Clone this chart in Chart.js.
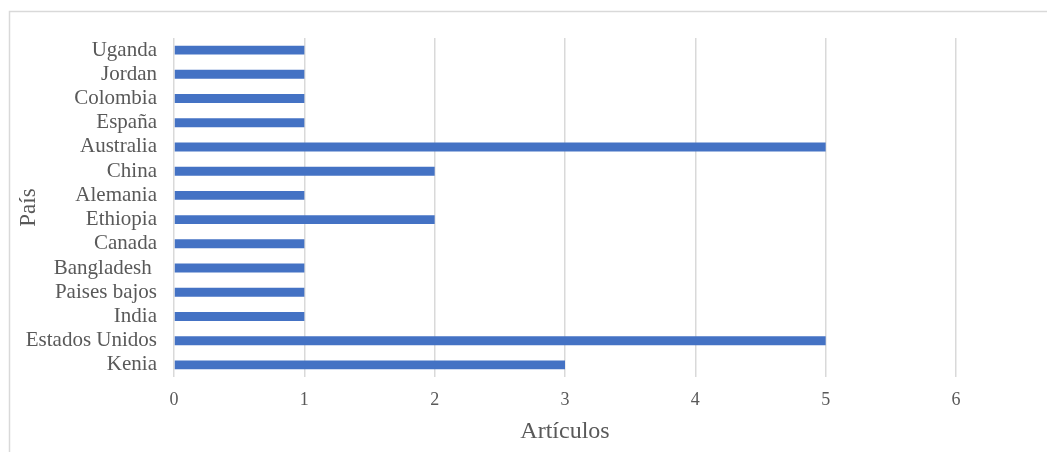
<!DOCTYPE html>
<html>
<head>
<meta charset="utf-8">
<script src="https://cdn.jsdelivr.net/npm/chart.js@4"></script>
<style>
  html, body { margin: 0; padding: 0; background: #fff; }
  #wrap { width: 1047px; height: 452px; position: relative; }
</style>
</head>
<body>
<div id="wrap"><canvas id="chart" width="1047" height="452"></canvas></div>
<script>
// Countries, top to bottom as shown
const paises = ['Uganda', 'Jordan', 'Colombia', 'España', 'Australia', 'China', 'Alemania',
  'Ethiopia', 'Canada', 'Bangladesh ', 'Paises bajos', 'India', 'Estados Unidos', 'Kenia']
// Number of articles per country
const articulos = [1, 1, 1, 1, 5, 2, 1, 2, 1, 1, 1, 1, 5, 3]
const ejeX = { min: 0, max: 6, step: 1 }

const textColor = '#595959'
const gridColor = '#d9d9d9'
const serif = "'Liberation Serif', 'Times New Roman', serif"

// light frame around the chart, like the Excel chart area
const framePlugin = {
  id: 'frame',
  beforeDraw(chart) {
    const ctx = chart.ctx
    ctx.save()
    ctx.fillStyle = '#fff'
    ctx.fillRect(0, 0, chart.width, chart.height)
    ctx.strokeStyle = '#d9d9d9'
    ctx.lineWidth = 1.5
    ctx.strokeRect(9.5, 11.5, chart.width + 20, chart.height + 20)
    ctx.restore()
  }
}

new Chart(document.getElementById('chart'), {
  type: 'bar',
  data: {
    labels: paises,
    datasets: [{
      label: 'Artículos',
      data: articulos,
      backgroundColor: '#4472c4',
      borderWidth: 0,
      barPercentage: 0.37,
      categoryPercentage: 1
    }]
  },
  options: {
    indexAxis: 'y',
    responsive: false,
    animation: false,
    layout: { padding: { top: 38, right: 91, left: 0, bottom: 0 } },
    plugins: {
      legend: { display: false },
      tooltip: { enabled: false }
    },
    scales: {
      x: {
        min: ejeX.min,
        max: ejeX.max,
        afterFit(scale) { scale.height = 75 },
        grid: { color: gridColor, lineWidth: 1.5, drawTicks: false },
        border: { display: false },
        ticks: {
          stepSize: ejeX.step,
          color: textColor,
          padding: 12,
          font: { family: serif, size: 18 }
        },
        title: {
          display: true,
          text: 'Artículos',
          color: textColor,
          padding: { top: 1, bottom: 6 },
          font: { family: serif, size: 24 }
        }
      },
      y: {
        afterFit(scale) { scale.width = 174 },
        grid: { display: false, drawTicks: false },
        border: { display: false },
        ticks: {
          color: textColor,
          padding: 17,
          autoSkip: false,
          font: { family: serif, size: 21 }
        },
        title: {
          display: true,
          text: 'País',
          color: textColor,
          padding: { top: 15, bottom: 0 },
          font: { family: serif, size: 23 }
        }
      }
    }
  },
  plugins: [framePlugin]
})
</script>
</body>
</html>
